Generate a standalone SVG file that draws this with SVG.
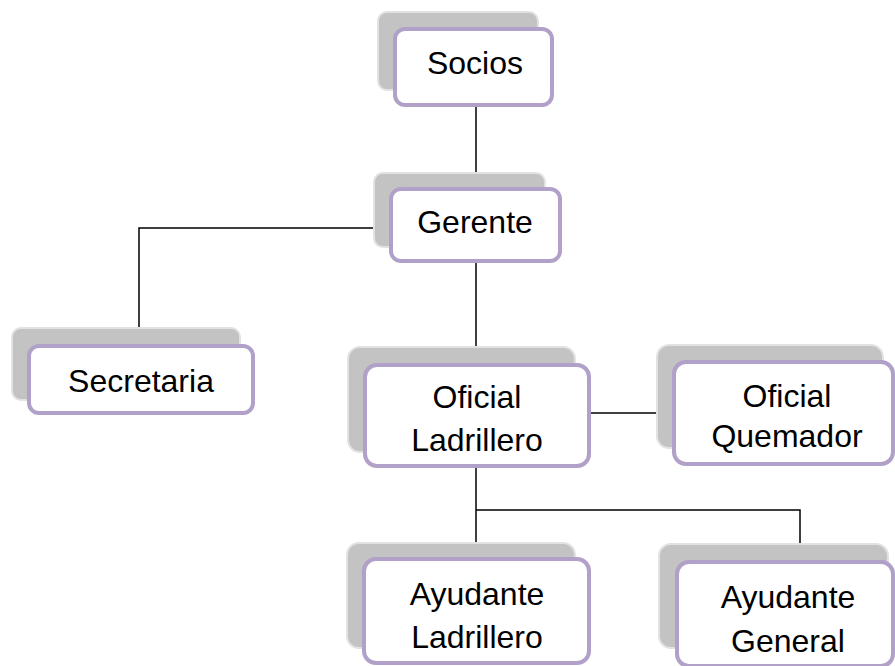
<svg xmlns="http://www.w3.org/2000/svg" width="895" height="666" viewBox="0 0 895 666">
<style>
.sh{fill:#c3c3c3;stroke:#e2e2e2;stroke-width:2}
.bx{fill:#ffffff;stroke:#b1a0c7;stroke-width:4}
.t{font-family:"Liberation Sans",Arial,sans-serif;font-size:32px;fill:#000;text-anchor:middle}
.c{fill:none;stroke:#000;stroke-width:1.5}
</style>
<rect width="895" height="666" fill="#fff"/>
<g id="connectors">
<path class="c" d="M476 105V189"/>
<path class="c" d="M391 228H139V346"/>
<path class="c" d="M476 261V365"/>
<path class="c" d="M589 413H674"/>
<path class="c" d="M476 466V559"/>
<path class="c" d="M476 510H800V562"/>
</g>
<g id="socios">
<rect class="sh" x="378" y="12" width="160" height="78" rx="9"/>
<rect class="bx" x="395" y="29" width="157" height="76" rx="10"/>
<text class="t" x="475" y="74">Socios</text>
</g>
<g id="gerente">
<rect class="sh" x="374" y="173" width="171" height="74" rx="9"/>
<rect class="bx" x="391" y="189" width="169" height="72" rx="10"/>
<text class="t" x="475" y="233">Gerente</text>
</g>
<g id="secretaria">
<rect class="sh" x="12" y="328" width="228" height="72" rx="9"/>
<rect class="bx" x="29" y="346" width="224" height="67" rx="10"/>
<text class="t" x="141" y="392">Secretaria</text>
</g>
<g id="oficial-ladrillero">
<rect class="sh" x="348" y="347" width="227" height="105" rx="12"/>
<rect class="bx" x="365" y="365" width="224" height="101" rx="12"/>
<text class="t" x="477" y="408">Oficial</text>
<text class="t" x="477" y="451">Ladrillero</text>
</g>
<g id="oficial-quemador">
<rect class="sh" x="657" y="345" width="226" height="103" rx="12"/>
<rect class="bx" x="674" y="362" width="219" height="102" rx="12"/>
<text class="t" x="787" y="407">Oficial</text>
<text class="t" x="787" y="447">Quemador</text>
</g>
<g id="ayudante-ladrillero">
<rect class="sh" x="347" y="543" width="228" height="105" rx="12"/>
<rect class="bx" x="364" y="559" width="225" height="104" rx="12"/>
<text class="t" x="477" y="605">Ayudante</text>
<text class="t" x="477" y="648">Ladrillero</text>
</g>
<g id="ayudante-general">
<rect class="sh" x="659" y="544" width="229" height="104" rx="12"/>
<rect class="bx" x="677" y="562" width="216" height="104" rx="12"/>
<text class="t" x="788" y="608">Ayudante</text>
<text class="t" x="788" y="652">General</text>
</g>
</svg>
